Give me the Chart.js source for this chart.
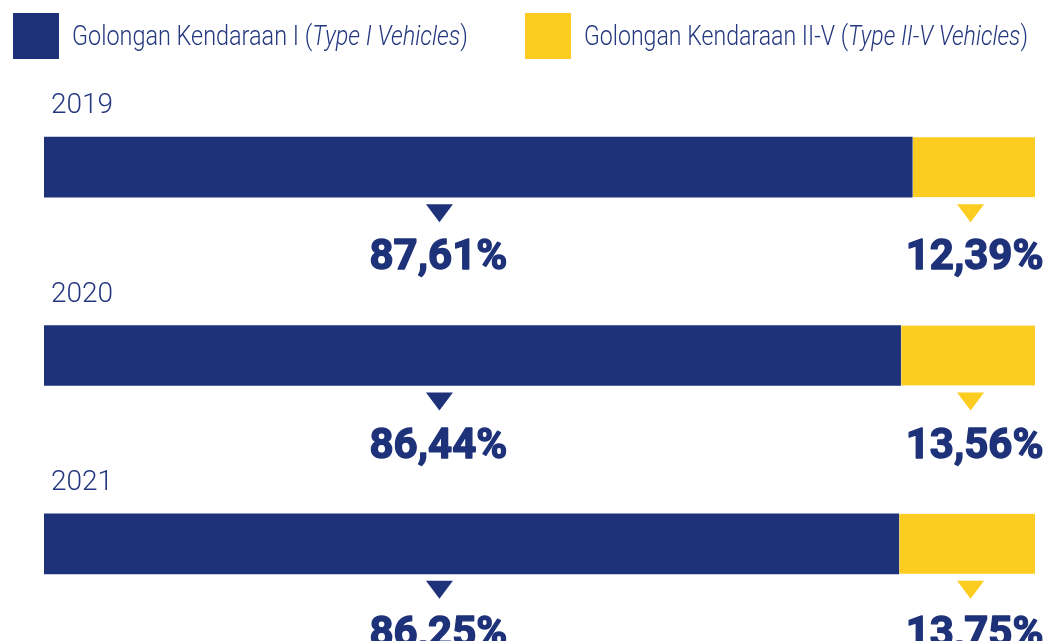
<!DOCTYPE html>
<html>
<head>
<meta charset="utf-8">
<script src="https://cdn.jsdelivr.net/npm/chart.js@4.4.1/dist/chart.umd.min.js"></script>
<style>
  html, body { margin: 0; padding: 0; background: #fff; }
  #wrap { width: 1059px; height: 641px; }
</style>
</head>
<body>
<div id="wrap"><canvas id="shareChart" width="1059" height="641"></canvas></div>
<script>
// ---------- DATA ----------
const years = ["2019", "2020", "2021"];
const typeOneShare = [87.61, 86.44, 86.25];
const typeTwoFiveShare = [12.39, 13.56, 13.75];
const legendNames = ["Golongan Kendaraan I", "Golongan Kendaraan II-V"];
const legendNamesEn = ["Type I Vehicles", "Type II-V Vehicles"];

const NAVY = "#1e327a";
const YELLOW = "#fccc21";
const TEXT = "#24377f";

function fmtPct(v) {
  return v.toFixed(2).replace(".", ",") + "%";
}

// ---------- LEGEND (drawn on canvas, mixed upright / italic) ----------
const topLegend = {
  id: "topLegend",
  afterDraw(chart) {
    const ctx = chart.ctx;
    const boxes = [
      { x: 13, textX: 72, width: 396, color: NAVY },
      { x: 525, textX: 584, width: 444, color: YELLOW }
    ];
    boxes.forEach((b, i) => {
      ctx.save();
      ctx.fillStyle = b.color;
      ctx.fillRect(b.x, 13, 46, 46);

      const normal = "300 28px Roboto";
      const italic = "italic 300 28px Roboto";
      const parts = [[legendNames[i] + " (", normal], [legendNamesEn[i], italic], [")", normal]];
      let natural = 0;
      parts.forEach(p => { ctx.font = p[1]; natural += ctx.measureText(p[0]).width; });

      // the face is narrower than Roboto, squeeze it to the same run length
      ctx.translate(b.textX, 45);
      ctx.scale(b.width / natural, 1);
      ctx.fillStyle = TEXT;
      ctx.textBaseline = "alphabetic";
      let cx = 0;
      parts.forEach(p => {
        ctx.font = p[1];
        ctx.fillText(p[0], cx, 0);
        cx += ctx.measureText(p[0]).width;
      });
      ctx.restore();
    });
  }
};

// ---------- YEAR LABELS, POINTERS, PERCENTAGES ----------
const barNotes = {
  id: "barNotes",
  afterDatasetsDraw(chart, args, opts) {
    const ctx = chart.ctx;
    const xs = chart.scales.x;
    const ys = chart.scales.y;
    const half = opts.thickness / 2;

    years.forEach((yr, i) => {
      const cy = ys.getPixelForValue(i);
      const top = cy - half;
      const bottom = cy + half;

      ctx.save();
      ctx.fillStyle = TEXT;
      ctx.font = "300 28px Roboto";
      ctx.textAlign = "left";
      ctx.textBaseline = "alphabetic";
      ctx.fillText(yr, chart.chartArea.left + 7, top - 24);

      chart.data.datasets.forEach((ds, d) => {
        const px = xs.getPixelForValue(opts.pointerAt[d]);
        ctx.fillStyle = ds.backgroundColor;
        ctx.beginPath();
        ctx.moveTo(px - 13.5, bottom + 7);
        ctx.lineTo(px + 13.5, bottom + 7);
        ctx.lineTo(px, bottom + 25);
        ctx.closePath();
        ctx.fill();

        // heavy percentage figure: bold fill plus a thin stroke for extra weight
        const txt = fmtPct(ds.data[i]);
        const tx = px + opts.labelShift[d];
        ctx.fillStyle = NAVY;
        ctx.strokeStyle = NAVY;
        ctx.lineWidth = 1.4;
        ctx.lineJoin = "round";
        ctx.font = "bold 42px Roboto";
        ctx.textAlign = "center";
        ctx.fillText(txt, tx, bottom + 72);
        ctx.strokeText(txt, tx, bottom + 72);
      });
      ctx.restore();
    });
  }
};

// ---------- CHART ----------
const ctx = document.getElementById("shareChart").getContext("2d");

new Chart(ctx, {
  type: "bar",
  data: {
    labels: years,
    datasets: [
      {
        label: legendNames[0] + " (" + legendNamesEn[0] + ")",
        data: typeOneShare,
        backgroundColor: NAVY,
        borderWidth: 0,
        barThickness: 60
      },
      {
        label: legendNames[1] + " (" + legendNamesEn[1] + ")",
        data: typeTwoFiveShare,
        backgroundColor: YELLOW,
        borderColor: "#e6e8ef",
        borderWidth: { left: 1, right: 0, top: 0, bottom: 0 },
        borderSkipped: false,
        barThickness: 60
      }
    ]
  },
  options: {
    indexAxis: "y",
    responsive: false,
    animation: false,
    devicePixelRatio: 1,
    layout: { padding: { top: 73, bottom: 3, left: 44, right: 24 } },
    scales: {
      x: { stacked: true, min: 0, max: 100, display: false },
      y: { stacked: true, display: false }
    },
    plugins: {
      legend: { display: false },
      tooltip: { enabled: false },
      barNotes: { thickness: 60, pointerAt: [39.9, 93.5], labelShift: [-1, 4] }
    }
  },
  plugins: [topLegend, barNotes]
});
</script>
</body>
</html>
